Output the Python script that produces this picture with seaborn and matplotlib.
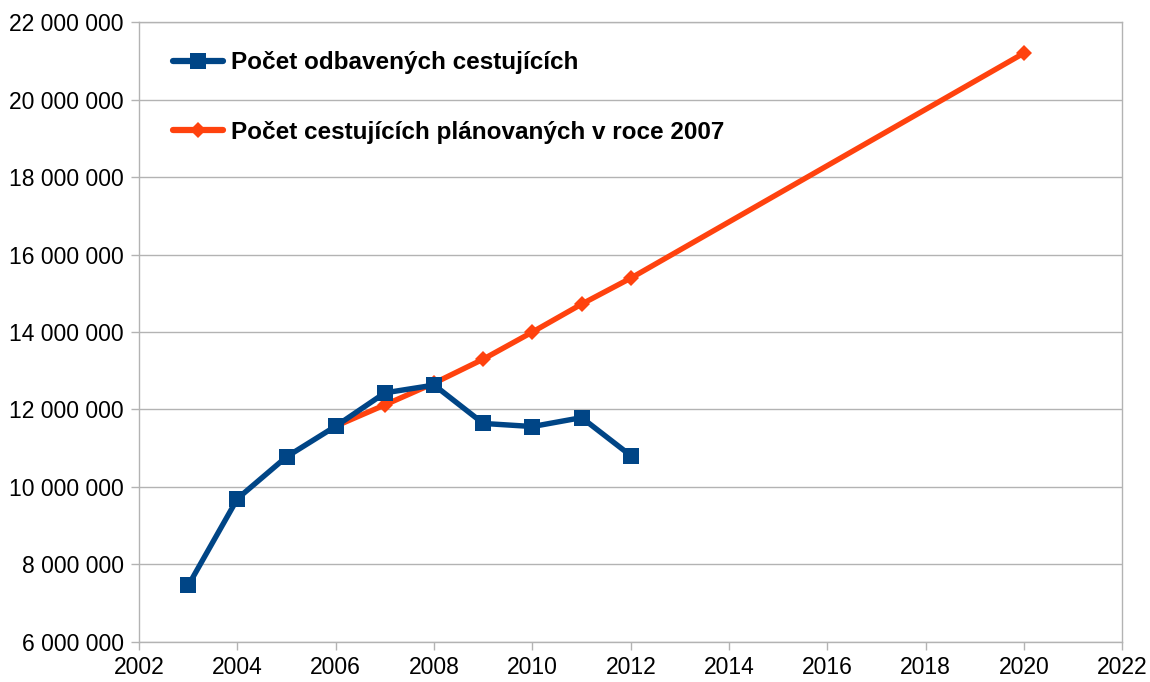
import pandas as pd
import matplotlib.pyplot as plt
import matplotlib.ticker as mticker
import seaborn as sns

# values
years_actual = [2003, 2004, 2005, 2006, 2007, 2008, 2009, 2010, 2011, 2012]
passengers_actual = [7460000, 9700000, 10780000, 11570000, 12430000, 12630000,
                     11640000, 11560000, 11790000, 10810000]

years_plan = [2006, 2007, 2008, 2009, 2010, 2011, 2012, 2020]
passengers_plan = [11570000, 12120000, 12680000, 13300000, 14000000, 14720000,
                   15390000, 21200000]

label_actual = "Počet odbavených cestujících"
label_plan = "Počet cestujících plánovaných v roce 2007"

x_ticks = list(range(2002, 2023, 2))
y_ticks = list(range(6000000, 22000001, 2000000))

df_actual = pd.DataFrame({"rok": years_actual, "pocet": passengers_actual})
df_plan = pd.DataFrame({"rok": years_plan, "pocet": passengers_plan})

sns.set_style("white")
plt.rcParams['font.family'] = ['Liberation Sans', 'DejaVu Sans']
plt.rcParams['text.color'] = 'black'

fig = plt.figure(figsize=(11.5, 6.82), dpi=100)
ax = fig.add_axes([0.121, 0.0587, 0.855, 0.909])

sns.lineplot(data=df_plan, x="rok", y="pocet", ax=ax, color="#ff420e",
             linewidth=3.9, marker="D", markersize=8, markeredgewidth=0,
             label=label_plan, zorder=2)
sns.lineplot(data=df_actual, x="rok", y="pocet", ax=ax, color="#004586",
             linewidth=3.9, marker="s", markersize=11, markeredgewidth=0,
             label=label_actual, zorder=3)

ax.set_xlim(2002, 2022)
ax.set_ylim(6000000, 22000000)
ax.set_xticks(x_ticks)
ax.set_yticks(y_ticks)
ax.yaxis.set_major_formatter(mticker.FuncFormatter(lambda v, p: f"{int(v):,}".replace(",", " ")))
ax.set_xlabel("")
ax.set_ylabel("")

ax.grid(axis="y", color="#b3b3b3", linewidth=1)
ax.grid(axis="x", visible=False)
for s in ax.spines.values():
    s.set_color("#b3b3b3")
    s.set_linewidth(1)
ax.tick_params(axis="both", which="major", labelsize=16.5, colors="#b3b3b3",
               labelcolor="black", length=6, width=1, direction="out",
               bottom=True, left=True)
ax.tick_params(axis="x", pad=4)
ax.tick_params(axis="y", pad=5)

handles, labels = ax.get_legend_handles_labels()
order = [labels.index(label_actual), labels.index(label_plan)]
leg = ax.legend([handles[i] for i in order], [labels[i] for i in order],
                loc="upper left", bbox_to_anchor=(0.012, 0.988), frameon=False,
                prop={"weight": "bold", "size": 17.5}, handlelength=2.05,
                labelspacing=1.9, handletextpad=0.33)
for t in leg.get_texts():
    t.set_color("black")
for h in leg.legend_handles:
    h.set_linewidth(4.5)

plt.savefig("out.png", dpi=100)
